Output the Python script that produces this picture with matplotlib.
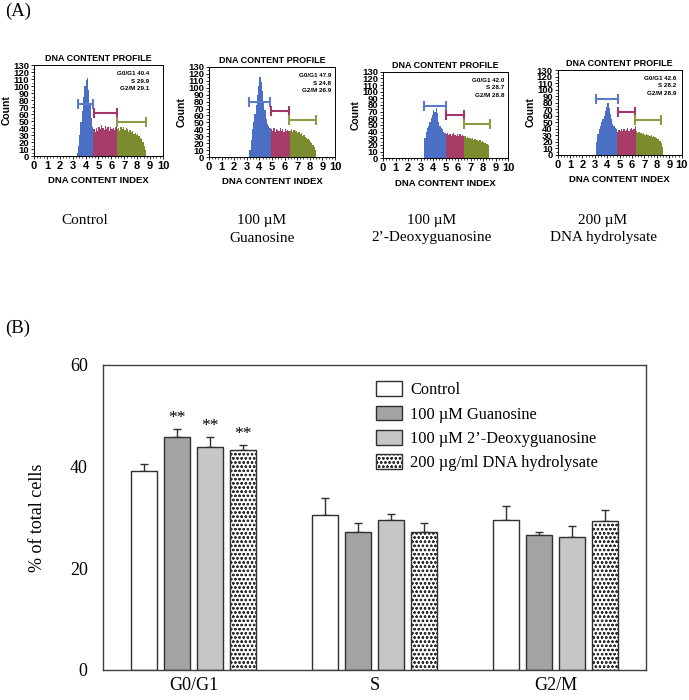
import matplotlib
matplotlib.use("Agg")
import matplotlib.pyplot as plt
import numpy as np

plt.rcParams['hatch.linewidth'] = 0.6

# ---------------- Panel (B) data ----------------
phases = ["G0/G1", "S", "G2/M"]
treatments = ["Control", "100 \u00b5M Guanosine", "100 \u00b5M 2\u2019-Deoxyguanosine",
              "200 \u00b5g/ml DNA hydrolysate"]
control_vals = [39.2, 30.5, 29.5]
guanosine_vals = [45.9, 27.2, 26.5]
deoxy_vals = [43.9, 29.5, 26.1]
dna_vals = [43.3, 27.2, 29.3]
control_err = [1.3, 3.4, 2.8]
guanosine_err = [1.5, 1.8, 0.7]
deoxy_err = [2.0, 1.1, 2.2]
dna_err = [0.9, 1.8, 2.1]
signif = [["", "", ""], ["**", "", ""], ["**", "", ""], ["**", "", ""]]

# ---------------- Panel (A) data ----------------
panel_titles = ["Control", "100 \u00b5M\nGuanosine", "100 \u00b5M\n2\u2019-Deoxyguanosine",
                "200 \u00b5M\nDNA hydrolysate"]
stats_g0g1 = ["40.4", "47.9", "42.0", "42.6"]
stats_s = ["29.9", "24.8", "28.7", "28.2"]
stats_g2m = ["29.1", "26.9", "28.8", "28.9"]
hist_start = [3.3, 3.2, 3.3, 3.1]
hist_blue = [
    [5, 15, 30, 48, 65, 85, 100, 108, 112, 95, 75, 55, 42],
    [10, 25, 40, 50, 62, 75, 90, 102, 116, 108, 95, 80, 68, 55, 48, 45, 42],
    [30, 40, 45, 48, 55, 60, 65, 72, 70, 75, 68, 55, 48, 45, 44, 40, 38],
    [20, 32, 40, 45, 50, 55, 60, 68, 74, 80, 72, 62, 55, 48, 44, 42, 40],
]
hist_red = [
    [38, 35, 40, 36, 42, 38, 44, 40, 37, 43, 39, 41, 36, 42, 38, 40, 37, 41],
    [40, 38, 42, 36, 41, 39, 37, 42, 38, 40, 36, 41, 38, 39, 37],
    [36, 38, 35, 37, 34, 36, 38, 35, 33, 36, 34, 37, 33, 35, 34],
    [35, 38, 36, 39, 37, 40, 36, 38, 41, 37, 39, 42, 38, 40, 44],
]
hist_green = [
    [38, 40, 36, 42, 39, 41, 37, 40, 38, 35, 37, 34, 36, 32, 33, 30, 31, 28, 26, 24, 20, 15, 8],
    [38, 40, 36, 39, 37, 38, 35, 36, 33, 34, 31, 32, 29, 28, 26, 24, 22, 20, 17, 14, 10],
    [33, 31, 32, 30, 31, 29, 30, 28, 29, 27, 28, 26, 27, 25, 26, 24, 23, 22, 21, 20],
    [36, 34, 35, 33, 34, 32, 33, 31, 32, 30, 31, 29, 30, 28, 29, 27, 26, 25, 24, 22, 18, 12],
]
# gates: (start, end, level) for G0/G1, S, G2/M
gates_blue = [(3.43, 4.60, 74), (3.15, 4.84, 79), (3.28, 5.00, 78), (3.07, 4.84, 85)]
gates_red = [(4.67, 6.46, 62), (4.92, 6.37, 66), (5.00, 6.50, 65), (4.84, 6.27, 65)]
gates_green = [(6.46, 8.66, 49), (6.37, 8.47, 53), (6.50, 8.55, 52), (6.27, 8.30, 54)]
bin_w = 0.1

fig = plt.figure(figsize=(6.89, 7.0), dpi=100)

serif = ['Liberation Serif', 'DejaVu Serif']
sans = ['Liberation Sans', 'DejaVu Sans']

col_blue = '#4a6fc4'
col_red = '#a83c68'
col_green = '#7b8c2e'
gate_blue = '#5b7bc8'
gate_red = '#a4376a'
gate_green = '#8c9c44'

hist_pos = [
    [0.0493, 0.7771, 0.1872, 0.1300],
    [0.3033, 0.7757, 0.1829, 0.1286],
    [0.5559, 0.7739, 0.1814, 0.1237],
    [0.8094, 0.7786, 0.1800, 0.1214],
]
stats_x = [0.89, 0.97, 0.97, 0.96]
label_x = [85, 262, 432, 603]

def sfont(size):
    return dict(family=sans, fontweight='bold', fontsize=size)

for i in range(4):
    ax = fig.add_axes(hist_pos[i])
    nb, nr, ng = len(hist_blue[i]), len(hist_red[i]), len(hist_green[i])
    xb = hist_start[i] + bin_w * np.arange(nb)
    xr = hist_start[i] + bin_w * (nb + np.arange(nr))
    xg = hist_start[i] + bin_w * (nb + nr + np.arange(ng))
    ax.bar(xb, hist_blue[i], width=bin_w, align='edge', color=col_blue, linewidth=0)
    ax.bar(xr, hist_red[i], width=bin_w, align='edge', color=col_red, linewidth=0)
    ax.bar(xg, hist_green[i], width=bin_w, align='edge', color=col_green, linewidth=0)
    for (g, c) in [(gates_blue[i], gate_blue), (gates_red[i], gate_red), (gates_green[i], gate_green)]:
        s, e, lv = g
        ax.errorbar([(s + e) / 2], [lv], xerr=[(e - s) / 2], fmt='none', ecolor=c,
                    elinewidth=1.5, capsize=3.5, capthick=1.5)
    ax.set_xlim(0, 10)
    ax.set_ylim(0, 130)
    ax.set_xticks(range(0, 11))
    ax.set_xticks(np.arange(0, 10.01, 0.25), minor=True)
    ax.set_yticks(range(0, 131, 10))
    ax.set_yticks(range(0, 131, 5), minor=True)
    ax.tick_params(axis='both', which='major', length=2.5, width=0.6, direction='out', pad=1)
    ax.tick_params(axis='both', which='minor', length=1.5, width=0.5, direction='out')
    for lab in ax.get_xticklabels():
        lab.set(**sfont(8))
    for lab in ax.get_yticklabels():
        lab.set(**sfont(6.8))
    for sp in ax.spines.values():
        sp.set_linewidth(0.7)
    ax.set_title("DNA CONTENT PROFILE", pad=3, **sfont(6.5))
    ax.set_xlabel("DNA CONTENT INDEX", labelpad=4, **sfont(6.8))
    ax.set_ylabel("Count", labelpad=1, **sfont(7.5))
    ax.text(stats_x[i], 0.93, "G0/G1 %s\nS %s\nG2/M %s" % (stats_g0g1[i], stats_s[i], stats_g2m[i]),
            transform=ax.transAxes, ha='right', va='top', linespacing=1.6, **sfont(4.5))
    fig.text(label_x[i] / 689, 1 - 214 / 700, panel_titles[i], ha='center', va='top',
             family=serif, fontsize=11, linespacing=1.45)

fig.text(5 / 689, 1 - 3 / 700, "(A)", ha='left', va='top', family=serif, fontsize=13.5)
fig.text(5 / 689, 1 - 320 / 700, "(B)", ha='left', va='top', family=serif, fontsize=13.5)

# ---------------- Panel (B) ----------------
axb = fig.add_axes([0.1495, 0.0429, 0.7881, 0.4357])
x = np.arange(len(phases))
vals = [control_vals, guanosine_vals, deoxy_vals, dna_vals]
errs = [control_err, guanosine_err, deoxy_err, dna_err]
faces = ['white', '#a3a3a3', '#c6c6c6', 'white']
hatches = [None, None, None, 'oooo']
offsets = [-0.273, -0.091, 0.091, 0.273]
bw = 0.14
for k in range(4):
    axb.bar(x + offsets[k], vals[k], width=bw, color=faces[k], edgecolor='#303030',
            linewidth=1.0, hatch=hatches[k], label=treatments[k], zorder=2)
    axb.errorbar(x + offsets[k], vals[k], yerr=[np.zeros(3), errs[k]], fmt='none',
                 ecolor='#303030', elinewidth=1.0, capsize=3, capthick=1.0, zorder=1)
    for j in range(3):
        if signif[k][j]:
            axb.text(x[j] + offsets[k], vals[k][j] + errs[k][j] + 0.6, signif[k][j],
                     ha='center', va='bottom', family=serif, fontsize=12.5)
axb.set_xlim(-0.5, 2.5)
axb.set_ylim(0, 60)
axb.set_yticks([0, 20, 40, 60])
axb.set_xticks(x)
axb.set_xticklabels(phases)
axb.tick_params(axis='y', length=0, pad=11)
axb.tick_params(axis='x', length=0, pad=5)
for lab in axb.get_xticklabels() + axb.get_yticklabels():
    lab.set_family(serif); lab.set_fontsize(13)
for sp in axb.spines.values():
    sp.set_color('#404040'); sp.set_linewidth(1.0)
axb.set_ylabel("% of total cells", family=serif, fontsize=13)
axb.yaxis.set_label_coords(-(103 - 46) / 543, 0.5)
leg = axb.legend(loc='upper left', bbox_to_anchor=(0.49, 0.968), frameon=False,
                 prop={'family': serif, 'size': 11.8}, handlelength=1.6, handleheight=1.0,
                 labelspacing=0.45, handletextpad=0.5, borderaxespad=0)

fig.savefig("out.png", dpi=100)
